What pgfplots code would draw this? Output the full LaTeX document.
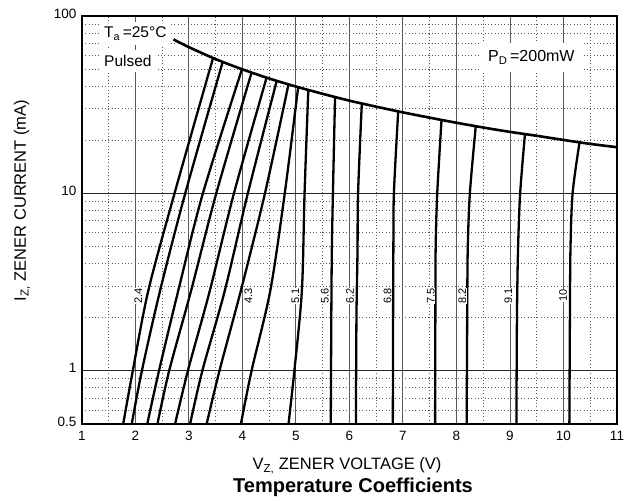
\documentclass[border=0pt]{standalone}
\usepackage{pgfplots}
\pgfplotsset{compat=1.18}
\usepackage{fontspec}
\setmainfont{Liberation Sans}
\begin{document}
\begin{tikzpicture}[zc/.style={black, line width=2.3pt, smooth, mark=none}]
\useasboundingbox (-82pt,-77pt) rectangle (543pt,424pt);
\begin{axis}[
  at={(0pt,0pt)}, anchor=south west,
  scale only axis, width=535pt, height=408pt,
  xmin=1, xmax=11, ymin=0.5, ymax=100, ymode=log,
  xtick={1,2,3,4,5,6,7,8,9,10,11},
  minor xtick={1.5,2.5,3.5,4.5,5.5,6.5,7.5,8.5,9.5,10.5},
  ytick={1,10,100}, yticklabels={1,10,100},
  minor ytick={0.6,0.7,0.8,0.9,2,3,4,5,6,7,8,9,20,30,40,50,60,70,80,90},
  extra y ticks={0.5}, extra y tick labels={0.5},
  extra y tick style={grid=none},
  major tick length=0pt, minor tick length=0pt,
  grid=both,
  major x grid style={black!65, line width=1pt},
  major y grid style={black!85, line width=1pt},
  minor grid style={black!65, line width=0.8pt, dash pattern=on 1pt off 2.3pt},
  axis line style={black, line width=1.1pt},
  /pgf/number format/assume math mode=true,
  tick label style={font=\fontsize{13.5}{16}\selectfont},
  xticklabel style={yshift=-4pt},
  yticklabel style={xshift=-2pt, yshift=2.5pt},
  ylabel={I\textsubscript{Z,} ZENER CURRENT (mA)},
  ylabel style={at={(axis description cs:-0.1121,0.5478)}, anchor=center, rotate=0, font=\fontsize{16.5}{19}\selectfont},
]
% P_D = 200 mW boundary
\addplot[zc, line width=2.6pt] coordinates {(2.71,73.8) (3.0,66.7) (3.5,57.1) (4,50) (4.5,44.4) (5,40) (5.5,36.4) (6,33.3) (6.5,30.8) (7,28.6) (7.5,26.7) (8,25) (8.5,23.5) (9,22.2) (9.5,21.1) (10,20) (10.5,19.0) (11,18.2)};
% zener curves
\addplot[zc] coordinates {(1.77,0.5) (1.95,1) (2.24,2.83) (2.73,10) (3.45,58.0)};
\addplot[zc] coordinates {(1.93,0.5) (2.12,1) (2.46,2.83) (2.93,10) (3.63,55.1)};
\addplot[zc] coordinates {(2.22,0.5) (2.44,1) (2.80,2.83) (3.26,10) (3.99,50.1)};
\addplot[zc] coordinates {(2.41,0.5) (2.63,1) (3.04,2.83) (3.51,10) (4.17,48.0)};
\addplot[zc] coordinates {(2.74,0.5) (2.98,1) (3.39,2.83) (3.84,10) (4.45,44.9)};
\addplot[zc] coordinates {(3.02,0.5) (3.25,1) (3.67,2.83) (4.10,10) (4.64,43.1)};
\addplot[zc] coordinates {(3.33,0.5) (3.57,1) (3.97,2.83) (4.42,10) (4.86,41.2)};
\addplot[zc] coordinates {(3.97,0.5) (4.17,1) (4.52,2.83) (4.79,10) (5.04,39.7)};
\addplot[zc] coordinates {(4.86,0.5) (4.97,1) (5.11,2.83) (5.16,10) (5.23,38.2)};
\addplot[zc] coordinates {(5.65,0.5) (5.66,2) (5.67,4.8) (5.69,10) (5.73,34.9)};
\addplot[zc] coordinates {(6.12,0.5) (6.13,2) (6.15,4.8) (6.16,10) (6.23,32.1)};
\addplot[zc] coordinates {(6.81,0.5) (6.815,2) (6.82,4.8) (6.83,10) (6.91,28.9)};
\addplot[zc] coordinates {(7.60,0.5) (7.605,2) (7.61,4.8) (7.64,10) (7.72,25.9)};
\addplot[zc] coordinates {(8.19,0.5) (8.20,2) (8.21,4.8) (8.25,10) (8.36,23.9)};
\addplot[zc] coordinates {(9.12,0.5) (9.13,2) (9.15,4.8) (9.19,10) (9.28,21.6)};
\addplot[zc] coordinates {(10.11,0.5) (10.12,2) (10.13,4.8) (10.17,10) (10.30,19.4)};
% curve labels
\begin{scope}[every node/.style={rotate=90, fill=white, inner sep=0.4pt, font=\fontsize{11}{12}\selectfont}]
\node at (axis cs:2.05,2.65) {2.4};
\node at (axis cs:4.11,2.65) {4.3};
\node at (axis cs:4.99,2.65) {5.1};
\node at (axis cs:5.54,2.65) {5.6};
\node at (axis cs:6.01,2.65) {6.2};
\node at (axis cs:6.71,2.65) {6.8};
\node at (axis cs:7.52,2.65) {7.5};
\node at (axis cs:8.11,2.65) {8.2};
\node at (axis cs:8.97,2.65) {9.1};
\node at (axis cs:9.99,2.65) {10};
\end{scope}
\end{axis}
\node[anchor=base, font=\fontsize{16.5}{19}\selectfont] at (265pt,-45.5pt) {V\textsubscript{Z,} ZENER VOLTAGE (V)};
\node[anchor=base, font=\fontsize{20}{24}\selectfont\bfseries] at (271pt,-69pt) {Temperature Coefficients};
\node[anchor=base west, fill=white, inner sep=5pt, font=\fontsize{15.5}{18}\selectfont] at (17pt,386pt) {T\textsubscript{a}\,=25°C};
\node[anchor=base west, fill=white, inner sep=5pt, font=\fontsize{15.5}{18}\selectfont] at (17pt,357.3pt) {Pulsed};
\node[anchor=base west, fill=white, inner sep=8pt, font=\fontsize{16}{19}\selectfont] at (398pt,362.3pt) {P\textsubscript{D}\,=200mW};
\end{tikzpicture}
\end{document}
